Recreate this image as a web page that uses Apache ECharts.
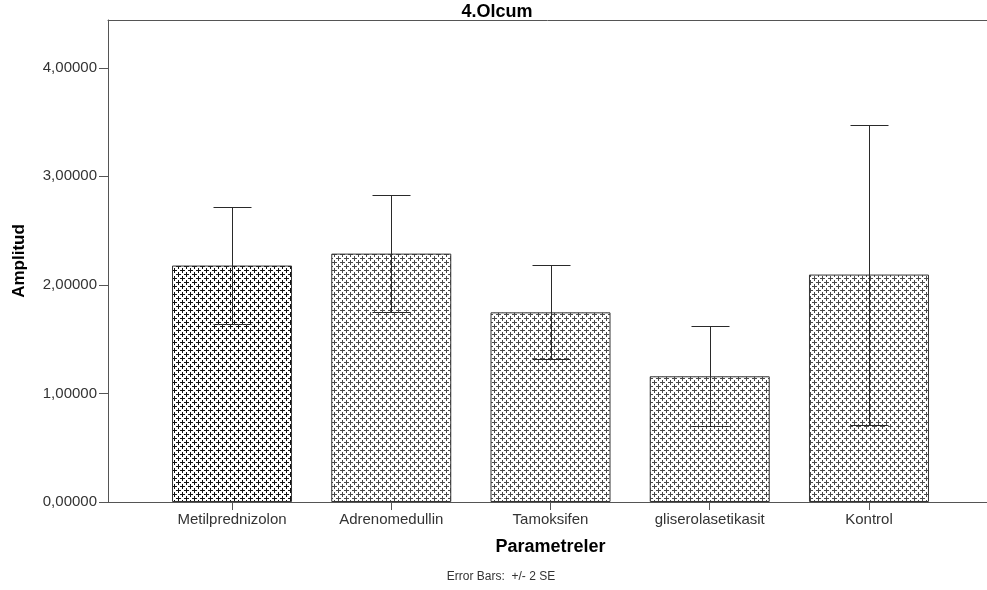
<!DOCTYPE html>
<html>
<head>
<meta charset="utf-8">
<script src="https://cdn.jsdelivr.net/npm/echarts@6/dist/echarts.min.js"></script>
<style>
  html, body { margin: 0; padding: 0; background: #fff; }
  #chart { width: 987px; height: 590px; }
</style>
</head>
<body>
<div id="chart"></div>
<script>
// Mean amplitude per group, with the +/- 2 SE interval bounds
const categories = ['Metilprednizolon', 'Adrenomedullin', 'Tamoksifen', 'gliserolasetikasit', 'Kontrol'];
const means = [2.178, 2.288, 1.747, 1.158, 2.095];
const upperBounds = [2.719, 2.832, 2.181, 1.618, 3.471];
const lowerBounds = [1.641, 1.754, 1.321, 0.700, 0.710];
const yTicks = [0, 1, 2, 3, 4];
const yMax = 4.44;

const FONT = '"Liberation Sans", Arial, sans-serif';

// Cross-hatch tile: plus signs on a diagonal lattice (8px period)
function crossPattern(ink) {
  const c = document.createElement('canvas');
  c.width = 8; c.height = 8;
  const g = c.getContext('2d');
  g.fillStyle = '#ffffff';
  g.fillRect(0, 0, 8, 8);
  g.fillStyle = ink;
  const plus = (cx, cy) => {
    for (const ox of [-8, 0, 8]) {
      for (const oy of [-8, 0, 8]) {
        const x = cx + ox, y = cy + oy;
        g.fillRect(x - 2, y, 5, 1);
        g.fillRect(x, y - 2, 1, 5);
      }
    }
  };
  plus(2, 2);
  plus(6, 6);
  return { image: c, repeat: 'repeat' };
}

const darkFill = crossPattern('#111111');
const lightFill = crossPattern('#4a4a4a');

const barData = means.map((v, i) => ({
  value: v,
  itemStyle: { color: i === 0 ? darkFill : lightFill }
}));

const errData = categories.map((c, i) => [i, upperBounds[i], lowerBounds[i]]);

const chart = echarts.init(document.getElementById('chart'), null, { renderer: 'canvas' });

const frameLine = { show: true, onZero: false, lineStyle: { color: '#555', width: 1 } };

chart.setOption({
  animation: false,
  backgroundColor: '#ffffff',
  grid: [
    // outer frame: value axis on the left, rules along top and bottom
    { left: 108, top: 20, right: 0, bottom: 88, outerBoundsMode: 'none' },
    // inner band that holds the bars
    { left: 152.4, top: 20, right: 38.4, bottom: 88, outerBoundsMode: 'none' }
  ],
  xAxis: [
    {
      gridIndex: 0, type: 'value', position: 'top', min: 0, max: 1,
      axisLine: frameLine, axisTick: { show: false }, axisLabel: { show: false }, splitLine: { show: false }
    },
    {
      gridIndex: 1,
      type: 'category',
      data: categories,
      axisLine: frameLine,
      axisTick: { show: true, alignWithLabel: true, length: 8, lineStyle: { color: '#555' } },
      axisLabel: { fontFamily: FONT, fontSize: 15, color: '#333', margin: 10 },
      name: 'Parametreler',
      nameLocation: 'middle',
      nameGap: 36,
      nameTextStyle: { fontFamily: FONT, fontSize: 18, fontWeight: 'bold', color: '#000' }
    },
    {
      gridIndex: 0, type: 'value', position: 'bottom', min: 0, max: 1,
      axisLine: frameLine, axisTick: { show: false }, axisLabel: { show: false }, splitLine: { show: false }
    }
  ],
  yAxis: [
    {
      gridIndex: 0,
      type: 'value',
      min: 0,
      max: yMax,
      interval: 1,
      axisLine: frameLine,
      axisTick: { show: true, length: 9, customValues: yTicks, lineStyle: { color: '#555' } },
      splitLine: { show: false },
      axisLabel: {
        fontFamily: FONT, fontSize: 15, color: '#333', margin: 11,
        customValues: yTicks,
        formatter: v => v.toFixed(5).replace('.', ',')
      },
      name: 'Amplitud',
      nameLocation: 'middle',
      nameGap: 80,
      nameTextStyle: { fontFamily: FONT, fontSize: 17, fontWeight: 'bold', color: '#000' }
    },
    { gridIndex: 1, type: 'value', min: 0, max: yMax, interval: 1, show: false, splitLine: { show: false } }
  ],
  series: [
    {
      type: 'bar',
      xAxisIndex: 1,
      yAxisIndex: 1,
      data: barData,
      barWidth: 120,
      itemStyle: { borderColor: '#333', borderWidth: 1 }
    },
    {
      type: 'custom',
      xAxisIndex: 1,
      yAxisIndex: 1,
      data: errData,
      encode: { x: 0, y: [1, 2] },
      z: 5,
      renderItem: (params, api) => {
        const x = api.value(0);
        const hi = api.coord([x, api.value(1)]);
        const lo = api.coord([x, api.value(2)]);
        const cx = Math.round(hi[0]) + 0.5;
        const yh = Math.round(hi[1]) + 0.5;
        const yl = Math.round(lo[1]) + 0.5;
        const half = 19;
        const style = { stroke: '#2a2a2a', lineWidth: 1 };
        return {
          type: 'group',
          children: [
            { type: 'line', shape: { x1: cx, y1: yh, x2: cx, y2: yl }, style },
            { type: 'line', shape: { x1: cx - half, y1: yh, x2: cx + half, y2: yh }, style },
            { type: 'line', shape: { x1: cx - half, y1: yl, x2: cx + half, y2: yl }, style }
          ]
        };
      }
    }
  ],
  graphic: [
    {
      type: 'text', x: 497, y: 12,
      style: { text: '4.Olcum', font: 'bold 18px ' + FONT, fill: '#000', textAlign: 'center', textVerticalAlign: 'middle' }
    },
    {
      type: 'text', x: 501, y: 577,
      style: { text: 'Error Bars:  +/- 2 SE', font: '12px ' + FONT, fill: '#333', textAlign: 'center', textVerticalAlign: 'middle' }
    }
  ]
});
</script>
</body>
</html>
